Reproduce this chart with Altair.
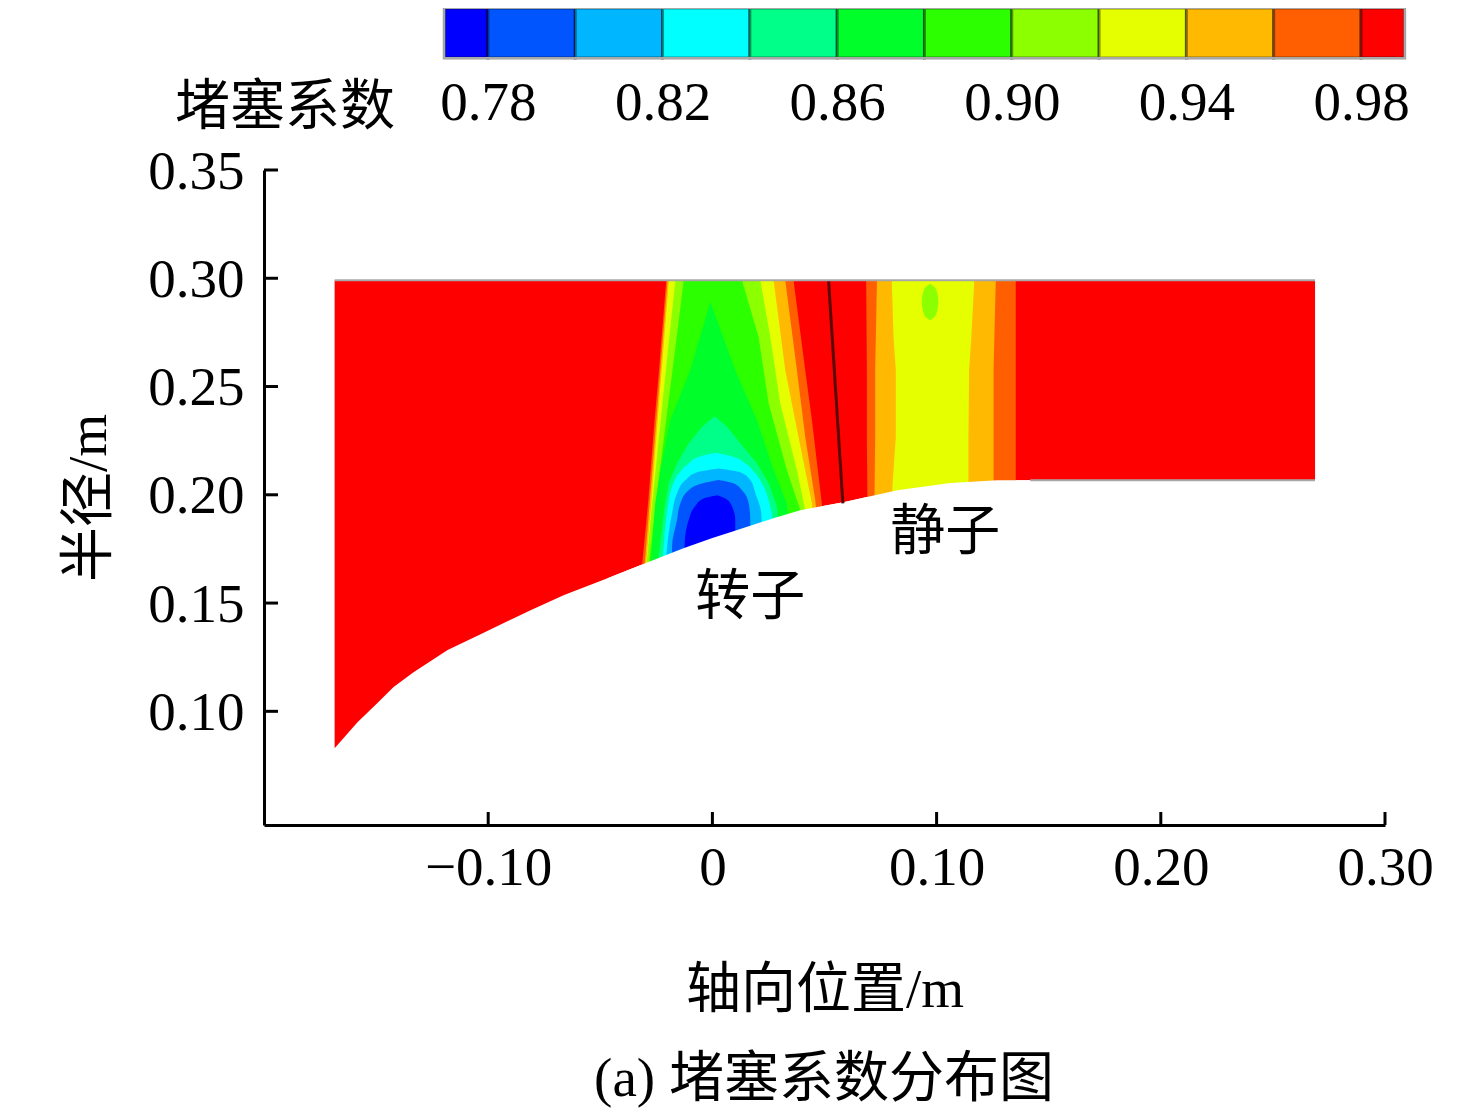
import altair as alt
import pandas as pd

FONT = "Liberation Serif, Noto Sans CJK SC"

# colour bar
bar_edges = [0.77, 0.78, 0.80, 0.82, 0.84, 0.86, 0.88, 0.90, 0.92, 0.94, 0.96, 0.98, 0.99]
bar_colors = ["#0000ff", "#0055ff", "#00b6ff", "#00ffff", "#00ff88", "#00ff2a",
              "#2bff00", "#8cff00", "#e6ff00", "#ffb900", "#ff5f00", "#ff0000"]
bar_ticks = [0.78, 0.82, 0.86, 0.90, 0.94, 0.98]

# casing
hub_x = [-.1685, -.1583, -.1494, -.1422, -.1333, -.1181, -.1034, -.0811, -.0664, -.0468, -.0308,
         -.0129, 0, .0080, .0272, .0392, .0584, .0825, .1061, .1271, .1418, .2688]
hub_r = [.0830, .0950, .1038, .1112, .1181, .1283, .1356, .1467, .1536, .1615, .1680,
         .1753, .1800, .1827, .1892, .1929, .1966, .2021, .2054, .2067, .2067, .2067]
shroud_r = 0.2991
blade_x = [.0518, .0582]
blade_r = [.2991, .1960]

# contour bands, painted outer to inner: colour, radius, left edge, right edge, curve
bands = [
    # rotor
    ("#ff5f00", [.299, .2575, .2344, .196, .165], [-.0206, -.0238, -.0258, -.0287, -.0316], [.0362, .0414, .0444, .0488, .0510], "linear"),
    ("#ffb900", [.299, .2575, .2267, .1975, .165], [-.0200, -.0232, -.0256, -.0279, -.0304], [.0325, .0377, .0414, .0459, .0485], "linear"),
    ("#e6ff00", [.299, .2575, .2267, .196, .165], [-.0194, -.0226, -.0250, -.0273, -.0298], [.0273, .0325, .0384, .0444, .0470], "linear"),
    ("#8cff00", [.299, .2729, .2421, .2114, .1929, .165], [-.0165, -.0192, -.0223, -.0253, -.0272, -.0296], [.0214, .0258, .0303, .0377, .0414, .0440], "linear"),
    ("#2bff00", [.299, .2729, .2421, .2114, .1929, .165], [-.0128, -.0159, -.0197, -.0234, -.0256, -.0286], [.0132, .0206, .0251, .0332, .0392, .0420], "linear"),
    ("#00ff2a", [.2891, .2575, .2344, .2114, .196, .165], [-.0009, -.0099, -.0188, -.0232, -.0255, -.0277], [-.0009, .0102, .0199, .0273, .0332, .0362], "linear"),
    ("#00ff88", [.2363, .2314, .2237, .2145, .2052, .1945, .1821, .165], [.0010, -.0046, -.0106, -.0158, -.0195, -.0213, -.0227, -.0247], [.0010, .0065, .0125, .0199, .0251, .0288, .0296, .0296], "linear"),
    ("#00ffff", [.2194, .2175, .2145, .2098, .2037, .1945, .1821, .165], [.0013, -.0061, -.0106, -.0150, -.0180, -.0199, -.0213, -.0224], [.0013, .0095, .0147, .0192, .0229, .0258, .0273, .0273], "monotone"),
    ("#00b6ff", [.2122, .2106, .2068, .2006, .1914, .1821, .165], [.0028, -.0061, -.0120, -.0158, -.0180, -.0195, -.0210], [.0028, .0117, .0169, .0192, .0218, .0221, .0221], "monotone"),
    ("#0055ff", [.2068, .2052, .2021, .196, .1883, .1760, .165], [.0028, -.0046, -.0106, -.0143, -.0158, -.0180, -.0180], [.0028, .0095, .0132, .0162, .0169, .0169, .0169], "monotone"),
    ("#0000ff", [.1998, .1983, .1945, .1883, .1791, .165], [.0021, -.0039, -.0079, -.0106, -.0123, -.0128], [.0021, .0058, .0088, .0102, .0102, .0102], "monotone"),
    # stator
    ("#ff5f00", [.299, .2575, .2267, .19], [.0686, .0689, .0689, .0692], [.1353, .1353, .1353, .1353], "linear"),
    ("#ffb900", [.299, .2575, .2267, .19], [.0734, .0726, .0726, .0722], [.1264, .1254, .1254, .1254], "linear"),
    ("#e6ff00", [.299, .2729, .2575, .2267, .2037, .19], [.0800, .0808, .0818, .0818, .0803, .0800], [.1168, .1155, .1145, .1142, .1142, .1142], "linear"),
    ("#8cff00", [.2975, .295, .2891, .283, .2805], [.0971, .0945, .0934, .0945, .0971], [.0971, .0997, .1008, .0997, .0971], "monotone"),
]

x_ticks = [-0.10, 0, 0.10, 0.20, 0.30]
y_ticks = [0.10, 0.15, 0.20, 0.25, 0.30, 0.35]
notes = [("转子", .0169, .1527), ("静子", .1039, .1827)]

xs = alt.Scale(domain=[-0.2, 0.3], zero=False, nice=False)
ys = alt.Scale(domain=[0.0475, 0.35], zero=False, nice=False)
W, H = 1121, 655

x_axis = alt.Axis(
    title="轴向位置/m", values=x_ticks, ticks=False, grid=False, domainWidth=3, domainColor="black",
    labelExpr="datum.value==0?'0':(datum.value<0?'−':'')+format(abs(datum.value),'.2f')",
    labelFont=FONT, labelFontSize=55, labelColor="black", labelPadding=16, labelOverlap=False,
    labelFlush=False, labelBound=False,
    titleFont=FONT, titleFontSize=55, titleFontWeight="normal", titleColor="black", titlePadding=68, zindex=2)
y_axis = alt.Axis(
    title="半径/m", values=y_ticks, ticks=False, grid=False, domainWidth=3, domainColor="black", format=".2f",
    labelFont=FONT, labelFontSize=55, labelColor="black", labelPadding=20, labelOverlap=False,
    labelFlush=False, labelBound=False, labelOffset=1,
    titleFont=FONT, titleFontSize=55, titleFontWeight="normal", titleColor="black", titlePadding=30, zindex=2)
X = lambda f: alt.X(f, type="quantitative", scale=xs, axis=x_axis)
Y = lambda f: alt.Y(f, type="quantitative", scale=ys, axis=y_axis)

layers = []
hub = pd.DataFrame({"x": hub_x, "r": hub_r, "top": [shroud_r] * len(hub_x)})
layers.append(alt.Chart(hub).mark_area(color="#ff0000").encode(x=X("x"), y=Y("r"), y2=alt.Y2("top")))
for colour, r, left, right, curve in bands:
    df = pd.DataFrame({"r": r, "left": left, "right": right})
    layers.append(alt.Chart(df).mark_area(color=colour, orient="horizontal", interpolate=curve).encode(
        y=Y("r"), x=X("left"), x2=alt.X2("right")))

# outside the flow path, under the hub line
below = hub[(hub.x > -0.06) & (hub.x < 0.15)].assign(floor=0.06)
layers.append(alt.Chart(below).mark_area(color="white").encode(x=X("x"), y=Y("r"), y2=alt.Y2("floor")))

layers.append(alt.Chart(pd.DataFrame({"x": blade_x, "r": blade_r})).mark_line(color="#5a0808", strokeWidth=3).encode(
    x=X("x"), y=Y("r"), order="r:Q"))
edge = pd.DataFrame({"x": [hub_x[0], hub_x[-1]], "r": [shroud_r, shroud_r]})
layers.append(alt.Chart(edge).mark_line(color="#a8a8a8", strokeWidth=2).encode(x=X("x"), y=Y("r")))
edge2 = pd.DataFrame({"x": hub_x[-2:], "r": hub_r[-2:]})
layers.append(alt.Chart(edge2).mark_line(color="#a8a8a8", strokeWidth=2).encode(x=X("x"), y=Y("r")))

layers.append(alt.Chart(pd.DataFrame({"x": x_ticks})).mark_rule(color="black", strokeWidth=3).encode(
    x=X("x"), y=alt.value(H), y2=alt.value(H - 13)))
layers.append(alt.Chart(pd.DataFrame({"r": y_ticks})).mark_rule(color="black", strokeWidth=3).encode(
    y=Y("r"), x=alt.value(0), x2=alt.value(14)))

nd = pd.DataFrame(notes, columns=["t", "x", "r"])
layers.append(alt.Chart(nd).mark_text(font=FONT, fontSize=55, color="black").encode(x=X("x"), y=Y("r"), text="t:N"))
layers.append(alt.Chart(pd.DataFrame({"t": ["(a) 堵塞系数分布图"]})).mark_text(font=FONT, fontSize=55, color="black").encode(
    x=alt.value(560), y=alt.value(909), text="t:N"))
main = alt.layer(*layers).properties(width=W, height=H)

# colour bar panel
bs = alt.Scale(domain=[0.7287, 0.98985], zero=False, nice=False)
bar_axis = alt.Axis(
    title=None, values=bar_ticks, format=".2f", ticks=False, domain=False, grid=False, labelFont=FONT, labelFontSize=55,
    labelColor="black", labelPadding=18, labelOverlap=False, labelFlush=False, labelBound=False)
bd = pd.DataFrame({"lo": bar_edges[:-1], "hi": bar_edges[1:], "c": bar_colors})
BH = 50
rects = alt.Chart(bd).mark_rect(stroke="black", strokeOpacity=0.4, strokeWidth=3).encode(
    x=alt.X("lo:Q", scale=bs, axis=bar_axis),
    x2="hi:Q", y=alt.value(0), y2=alt.value(BH), fill=alt.Fill("c:N", scale=None))
outline = alt.Chart(pd.DataFrame({"lo": [bar_edges[0]], "hi": [bar_edges[-1]]})).mark_rect(
    fillOpacity=0, stroke="#a8a8a8", strokeWidth=2).encode(
    x=alt.X("lo:Q", scale=bs, axis=bar_axis), x2="hi:Q", y=alt.value(0), y2=alt.value(BH))
bar_title = alt.Chart(pd.DataFrame({"t": ["堵塞系数"]})).mark_text(font=FONT, fontSize=55, color="black").encode(
    x=alt.value(21), y=alt.value(99), text="t:N")
top = alt.layer(rects, outline, bar_title).properties(width=1140, height=BH)

chart = alt.vconcat(top, main, spacing=112).properties(
    bounds="flush",
    autosize=alt.AutoSizeParams(type="none"),
    padding={"left": 256, "top": 0, "right": 1204, "bottom": 1104},
).configure_view(strokeWidth=0)

chart.save("out.html", embed_options={"renderer": "svg", "actions": False})
